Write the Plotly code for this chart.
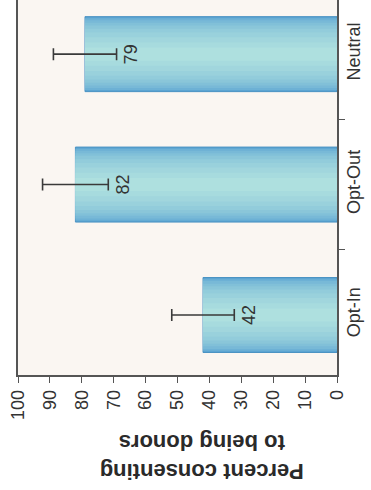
import plotly.graph_objects as go

categories = ["Opt-In", "Opt-Out", "Neutral"]
values = [42, 82, 79]
errors = [9.8, 10.3, 9.9]
x_ticks = [0, 10, 20, 30, 40, 50, 60, 70, 80, 90, 100]
axis_title = "Percent consenting<br>to being donors"


def lerp_color(c1, c2, t):
    a = [int(c1[i:i + 2], 16) for i in (1, 3, 5)]
    b = [int(c2[i:i + 2], 16) for i in (1, 3, 5)]
    return "rgb(%d,%d,%d)" % tuple(round(a[k] + (b[k] - a[k]) * t) for k in range(3))


fig = go.Figure()

edge_col = "#5ba4d2"
mid_col = "#aee0df"
widths = [0.575, 0.55, 0.52, 0.48, 0.44, 0.39, 0.33, 0.26, 0.18, 0.10]
n = len(widths)
for i, w in enumerate(widths):
    t = (i / (n - 1)) ** 0.7
    fig.add_trace(go.Bar(
        y=categories, x=values, orientation="h", width=w,
        marker=dict(color=lerp_color(edge_col, mid_col, t),
                    line=dict(color="#4b93c3" if i == 0 else "rgba(0,0,0,0)", width=1 if i == 0 else 0)),
        hoverinfo="skip", showlegend=False,
    ))

fig.add_trace(go.Scatter(
    y=categories, x=values, mode="markers",
    marker=dict(size=1, color="rgba(0,0,0,0)"),
    error_x=dict(type="data", array=errors, visible=True, color="#3a3a3a", thickness=1.6, width=6),
    showlegend=False, hoverinfo="skip",
))

for c, v, e in zip(categories, values, errors):
    fig.add_annotation(
        x=v - e - 4.6, y=c, text=str(v), showarrow=False, textangle=-90,
        xanchor="center", yanchor="middle",
        font=dict(family="Liberation Sans, Arial, sans-serif", size=18, color="#333333"),
    )

fig.add_annotation(
    x=0.575, xref="paper", y=-0.22, yref="paper", yanchor="middle", xanchor="center",
    text=axis_title, showarrow=False, textangle=180,
    font=dict(family="Liberation Sans, Arial, sans-serif", size=22, color="#2a2a2a", weight="bold"),
)

fig.update_layout(
    width=371, height=490,
    margin=dict(l=18, r=34, t=0, b=115),
    paper_bgcolor="white",
    plot_bgcolor="#faf6f2",
    barmode="overlay",
    showlegend=False,
    xaxis=dict(
        range=[100, 0], tickvals=x_ticks, tickangle=-90,
        ticks="outside", ticklen=6, tickwidth=1, tickcolor="#555555",
        showline=True, linecolor="#555555", linewidth=1.5,
        showgrid=False, zeroline=False,
        tickfont=dict(family="Liberation Sans, Arial, sans-serif", size=18, color="#333333"),
    ),
    yaxis=dict(
        type="category", categoryorder="array", categoryarray=categories,
        range=[-0.46, 2.415], side="right", tickangle=-90,
        ticks="outside", tickson="boundaries", ticklen=6, tickcolor="#555555",
        showline=True, mirror=True, linecolor="#555555", linewidth=1.5,
        showgrid=False, zeroline=False,
        tickfont=dict(family="Liberation Sans, Arial, sans-serif", size=18, color="#333333"),
    ),
)

fig.write_html("out.html", config={"displayModeBar": False},
               post_script="document.body.style.margin='0';document.body.style.overflow='hidden';")
